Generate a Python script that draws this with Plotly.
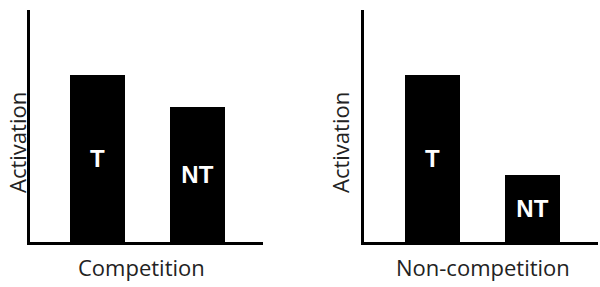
import plotly.graph_objects as go

categories = ["T", "NT"]
competition = [72, 58]
non_competition = [72, 29]
panel_titles = ["Competition", "Non-competition"]
y_title = "Activation"

W, H = 600, 287

def px_x(p):
    return p / W

def px_y(p):
    return 1 - p / H

fig = go.Figure()

panels = [
    (competition, "x", "y"),
    (non_competition, "x2", "y2"),
]

for vals, xa, ya in panels:
    fig.add_trace(go.Bar(
        x=[0, 1], y=vals, text=categories,
        textposition="inside", insidetextanchor="middle",
        textangle=0, constraintext="none",
        textfont=dict(family="Liberation Sans", size=24, color="white"),
        insidetextfont=dict(family="Liberation Sans", size=24, color="white"),
        texttemplate="<b>%{text}</b>",
        marker=dict(color="black", line=dict(width=0)),
        width=0.55, xaxis=xa, yaxis=ya, showlegend=False,
        hoverinfo="skip",
    ))

y_top, y_bot = 10, 242
axis_common = dict(showline=True, linecolor="black", linewidth=3,
                   showgrid=False, zeroline=False, showticklabels=False,
                   ticks="", fixedrange=True)

fig.update_layout(
    width=W, height=H,
    margin=dict(l=0, r=0, t=0, b=0),
    paper_bgcolor="white", plot_bgcolor="white",
    xaxis=dict(domain=[px_x(30), px_x(263)], range=[-0.67, 1.66], anchor="y", **axis_common),
    yaxis=dict(domain=[px_y(y_bot), px_y(y_top)], range=[0, 100], anchor="x", **axis_common),
    xaxis2=dict(domain=[px_x(364), px_x(598)], range=[-0.68, 1.66], anchor="y2", **axis_common),
    yaxis2=dict(domain=[px_y(y_bot), px_y(y_top)], range=[0, 100], anchor="x2", **axis_common),
    bargap=0,
)

annots = []
for title, tx in zip(panel_titles, [141, 483]):
    annots.append(dict(text=title, x=px_x(tx), y=px_y(267), xref="paper", yref="paper",
                       xanchor="center", yanchor="middle", showarrow=False,
                       font=dict(family="Open Sans", size=22, color="#222")))
for xc in [0, 323]:
    annots.append(dict(text=y_title, x=px_x(xc), y=px_y(143), xref="paper", yref="paper",
                       xanchor="left", yanchor="middle", showarrow=False, textangle=-90,
                       font=dict(family="Open Sans", size=22, color="#222")))
fig.update_layout(annotations=annots)

fig.write_html("out.html")
